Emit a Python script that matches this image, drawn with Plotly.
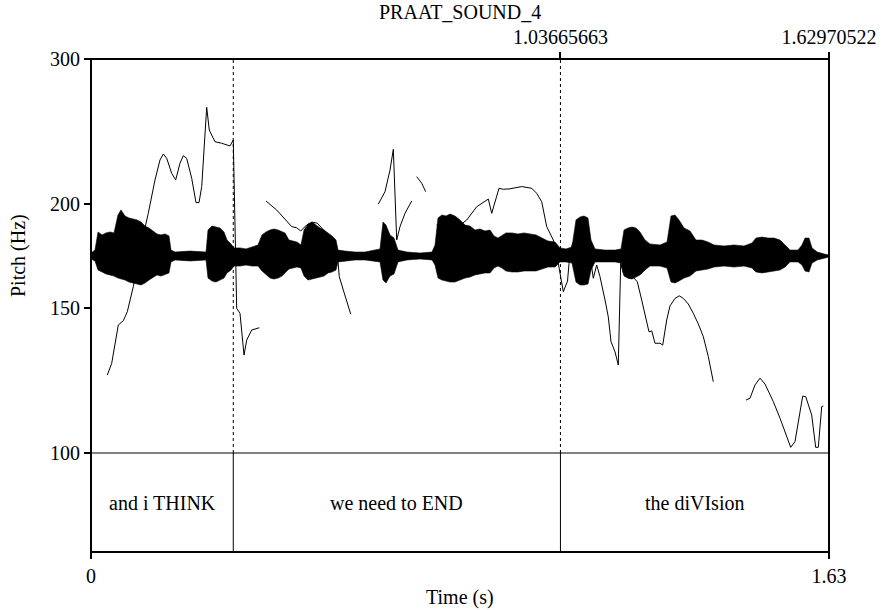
import plotly.graph_objects as go
import math

# ---------------- data ----------------
TITLE = "PRAAT_SOUND_4"
T_END = 1.62970522
BOUNDARIES = [0.3142, 1.03665663]
TOP_TICKS = [1.03665663, 1.62970522]
TOP_TICK_TEXT = ["1.03665663", "1.62970522"]
BOTTOM_TICKS = [0, 1.62970522]
BOTTOM_TICK_TEXT = ["0", "1.63"]
PITCH_TICKS = [100, 150, 200, 300]
PITCH_MIN, PITCH_MAX = 100, 300

tier_labels = ["and i THINK", "we need to END", "the diVIsion"]

# pitch contour segments (time s, Hz)
pitch_t1 = [0.0360, 0.0457, 0.0603, 0.0713, 0.0802, 0.0934, 0.1082, 0.1265, 0.1413, 0.1524,
            0.1597, 0.1672, 0.1782, 0.1870, 0.1965, 0.2038, 0.2113, 0.2224, 0.2319, 0.2385,
            0.2445, 0.2495, 0.2555, 0.2612, 0.2738, 0.2886, 0.3070, 0.3142, 0.3217, 0.3290,
            0.3379, 0.3438, 0.3549, 0.3717]
pitch_f1 = [124.3, 128.4, 142.9, 144.6, 148.3, 159.0, 176.1, 195.1, 214.1, 226.4,
            230.2, 227.4, 218.1, 214.1, 224.3, 229.1, 227.4, 215.1, 201.0, 201.0,
            210.2, 234.9, 262.2, 246.1, 238.2, 237.2, 235.4, 239.4, 149.7, 147.6,
            131.4, 137.0, 140.9, 141.8]

pitch_t2 = [0.3865, 0.4101, 0.4432, 0.4542, 0.4631, 0.4763, 0.4896, 0.4997, 0.5205, 0.5388,
            0.5439, 0.5483, 0.5572, 0.5735]
pitch_f2 = [201.9, 196.9, 188.0, 187.4, 185.7, 188.9, 190.3, 189.8, 184.5, 179.5,
            174.5, 163.5, 157.5, 147.3]

pitch_t3 = [0.6345, 0.6492, 0.6603, 0.6676, 0.6751, 0.6824, 0.6934, 0.7082]
pitch_f3 = [200.2, 207.2, 220.1, 233.2, 181.1, 188.0, 195.1, 201.9]

pitch_t4 = [0.7192, 0.7303, 0.7391]
pitch_f4 = [216.1, 212.2, 207.2]

pitch_t5 = [0.7634, 0.7745, 0.7928, 0.8111, 0.8297, 0.8517, 0.8774, 0.8849, 0.9010, 0.9105,
            0.9253, 0.9511, 0.9732, 0.9842, 0.9953, 1.0063, 1.0209, 1.0319, 1.0430, 1.0523,
            1.0556, 1.0622, 1.0754, 1.0865, 1.0975, 1.1092, 1.1167, 1.1240, 1.1351, 1.1423,
            1.1483, 1.1572, 1.1644, 1.1697, 1.1755, 1.1865, 1.1976, 1.2064, 1.2161, 1.2271,
            1.2322, 1.2382, 1.2455, 1.2565, 1.2625, 1.2713, 1.2786, 1.2896, 1.2991, 1.3080,
            1.3190, 1.3301, 1.3411, 1.3522, 1.3632, 1.3742]
pitch_f5 = [188.9, 189.8, 187.6, 188.0, 191.5, 198.7, 203.0, 195.1, 209.2, 208.6,
            208.9, 210.2, 209.2, 206.3, 201.5, 188.0, 181.1, 169.7, 156.8, 161.5,
            169.7, 178.6, 185.2, 184.7, 180.1, 162.8, 168.9, 163.5, 153.2, 146.2,
            136.4, 132.6, 127.8, 169.7, 165.1, 162.8, 163.2, 161.2, 153.2, 144.9,
            140.2, 140.6, 135.8, 135.8, 135.1, 144.9, 150.7, 153.9, 155.0, 153.9,
            151.5, 147.6, 143.3, 138.3, 130.8, 122.0]

pitch_t6 = [1.4464, 1.4553, 1.4663, 1.4774, 1.4884, 1.5067, 1.5215, 1.5363, 1.5451, 1.5546,
            1.5672, 1.5716, 1.5783, 1.5915, 1.6003, 1.6061, 1.6136, 1.6171]
pitch_f6 = [115.9, 116.5, 120.9, 123.2, 121.2, 115.4, 110.2, 105.1, 101.6, 103.2,
            112.7, 117.2, 117.0, 111.2, 101.6, 101.6, 113.8, 114.0]

# waveform envelope (time s, upper and lower amplitude, relative)
wave_t = [0.0000, 0.0088, 0.0155, 0.0243, 0.0331, 0.0420, 0.0508, 0.0596, 0.0662, 0.0751,
          0.0839, 0.0927, 0.1016, 0.1104, 0.1192, 0.1281, 0.1369, 0.1457, 0.1546, 0.1634,
          0.1722, 0.1767, 0.1855, 0.2186, 0.2540, 0.2584, 0.2672, 0.2760, 0.2849, 0.2937,
          0.3003, 0.3092, 0.3158, 0.3290, 0.3423, 0.3555, 0.3688, 0.3776, 0.3865, 0.3953,
          0.4041, 0.4130, 0.4218, 0.4284, 0.4372, 0.4461, 0.4549, 0.4637, 0.4704, 0.4792,
          0.4880, 0.4969, 0.5057, 0.5145, 0.5234, 0.5322, 0.5410, 0.5455, 0.5609, 0.5830,
          0.6051, 0.6227, 0.6382, 0.6448, 0.6514, 0.6603, 0.6691, 0.6779, 0.6978, 0.7265,
          0.7530, 0.7597, 0.7663, 0.7751, 0.7839, 0.7928, 0.8038, 0.8148, 0.8259, 0.8369,
          0.8480, 0.8590, 0.8701, 0.8811, 0.8899, 0.8988, 0.9076, 0.9164, 0.9297, 0.9429,
          0.9562, 0.9694, 0.9827, 0.9959, 1.0092, 1.0247, 1.0357, 1.0489, 1.0622, 1.0710,
          1.0799, 1.0887, 1.0975, 1.1042, 1.1130, 1.1351, 1.1572, 1.1704, 1.1770, 1.1858,
          1.1946, 1.2035, 1.2123, 1.2234, 1.2344, 1.2565, 1.2720, 1.2808, 1.2896, 1.2985,
          1.3095, 1.3228, 1.3360, 1.3493, 1.3625, 1.3758, 1.3979, 1.4199, 1.4420, 1.4597,
          1.4685, 1.4818, 1.4950, 1.5083, 1.5215, 1.5326, 1.5436, 1.5613, 1.5701, 1.5767,
          1.5855, 1.5922, 1.6038, 1.6193, 1.6297]
wave_top = [0.015, 0.030, 0.122, 0.107, 0.117, 0.122, 0.117, 0.208, 0.234, 0.203,
            0.193, 0.188, 0.183, 0.173, 0.152, 0.142, 0.127, 0.112, 0.107, 0.112,
            0.102, 0.030, 0.020, 0.025, 0.020, 0.132, 0.152, 0.147, 0.142, 0.122,
            0.081, 0.061, 0.041, 0.041, 0.036, 0.046, 0.056, 0.107, 0.122, 0.132,
            0.137, 0.132, 0.122, 0.117, 0.081, 0.076, 0.071, 0.056, 0.132, 0.162,
            0.173, 0.157, 0.142, 0.132, 0.117, 0.102, 0.081, 0.030, 0.025, 0.020,
            0.020, 0.030, 0.036, 0.173, 0.157, 0.107, 0.091, 0.030, 0.020, 0.015,
            0.020, 0.056, 0.193, 0.208, 0.203, 0.213, 0.203, 0.183, 0.157, 0.152,
            0.132, 0.137, 0.127, 0.132, 0.102, 0.091, 0.102, 0.117, 0.117, 0.112,
            0.117, 0.112, 0.107, 0.091, 0.076, 0.071, 0.041, 0.036, 0.046, 0.183,
            0.198, 0.203, 0.193, 0.081, 0.036, 0.030, 0.030, 0.036, 0.132, 0.142,
            0.147, 0.142, 0.122, 0.081, 0.061, 0.056, 0.071, 0.203, 0.208, 0.183,
            0.142, 0.127, 0.081, 0.081, 0.071, 0.056, 0.051, 0.056, 0.051, 0.066,
            0.091, 0.096, 0.091, 0.091, 0.081, 0.056, 0.030, 0.030, 0.056, 0.091,
            0.091, 0.041, 0.020, 0.010, 0.005]
wave_bot = [-0.015, -0.025, -0.071, -0.081, -0.091, -0.096, -0.102, -0.112, -0.117, -0.122,
            -0.132, -0.137, -0.142, -0.147, -0.137, -0.122, -0.107, -0.096, -0.102, -0.096,
            -0.086, -0.030, -0.020, -0.025, -0.020, -0.112, -0.127, -0.132, -0.122, -0.112,
            -0.086, -0.071, -0.051, -0.051, -0.046, -0.051, -0.051, -0.076, -0.096, -0.112,
            -0.117, -0.112, -0.102, -0.086, -0.066, -0.061, -0.056, -0.061, -0.102, -0.122,
            -0.117, -0.112, -0.107, -0.102, -0.086, -0.081, -0.071, -0.030, -0.025, -0.020,
            -0.020, -0.025, -0.030, -0.122, -0.137, -0.102, -0.091, -0.030, -0.020, -0.015,
            -0.020, -0.046, -0.112, -0.122, -0.127, -0.132, -0.132, -0.122, -0.112, -0.107,
            -0.096, -0.091, -0.086, -0.086, -0.061, -0.051, -0.061, -0.076, -0.081, -0.081,
            -0.076, -0.076, -0.076, -0.066, -0.056, -0.056, -0.030, -0.030, -0.036, -0.132,
            -0.147, -0.147, -0.142, -0.071, -0.030, -0.030, -0.030, -0.036, -0.102, -0.112,
            -0.117, -0.107, -0.096, -0.071, -0.051, -0.051, -0.061, -0.132, -0.137, -0.127,
            -0.112, -0.102, -0.076, -0.071, -0.066, -0.056, -0.051, -0.056, -0.051, -0.061,
            -0.081, -0.086, -0.081, -0.076, -0.071, -0.056, -0.030, -0.030, -0.046, -0.076,
            -0.081, -0.036, -0.020, -0.010, -0.005]

# ---------------- figure ----------------
FONT = "'Liberation Serif', 'Times New Roman', 'DejaVu Serif', serif"
W, H = 882, 610
ML, MR, MT, MB = 91, 53, 59, 58
plot_w = W - ML - MR
plot_h = H - MT - MB
tier_frac = 99 / plot_h

fig = go.Figure()

# waveform envelope
fig.add_trace(go.Scatter(
    x=wave_t + wave_t[::-1], y=wave_top + wave_bot[::-1],
    mode="lines", fill="toself", fillcolor="black",
    line=dict(color="black", width=0.6), yaxis="y3", xaxis="x",
    hoverinfo="skip", showlegend=False))

# pitch contour
px, py = [], []
for ts, fs in [(pitch_t1, pitch_f1), (pitch_t2, pitch_f2), (pitch_t3, pitch_f3),
               (pitch_t4, pitch_f4), (pitch_t5, pitch_f5), (pitch_t6, pitch_f6)]:
    px += ts + [None]
    py += fs + [None]
fig.add_trace(go.Scatter(x=px, y=py, mode="lines", line=dict(color="black", width=1),
                         xaxis="x", yaxis="y", connectgaps=False, showlegend=False))

# invisible trace to activate top axis
fig.add_trace(go.Scatter(x=[0, T_END], y=[PITCH_MIN, PITCH_MIN], mode="lines",
                         line=dict(width=0), xaxis="x2", yaxis="y",
                         hoverinfo="skip", showlegend=False))
# tier axis trace
fig.add_trace(go.Scatter(x=[0, T_END], y=[0, 0], mode="lines", line=dict(width=0),
                         xaxis="x", yaxis="y2", hoverinfo="skip", showlegend=False))

shapes = []
shapes.append(dict(type="rect", xref="paper", yref="paper", x0=0, x1=1, y0=0, y1=1,
                   line=dict(color="black", width=2)))
shapes.append(dict(type="line", xref="paper", yref="paper", x0=0, x1=1,
                   y0=tier_frac, y1=tier_frac, line=dict(color="black", width=1)))
for b in BOUNDARIES:
    shapes.append(dict(type="line", xref="x", yref="paper", x0=b, x1=b,
                       y0=tier_frac, y1=1, line=dict(color="black", width=1, dash="dot")))
    shapes.append(dict(type="line", xref="x", yref="paper", x0=b, x1=b,
                       y0=0, y1=tier_frac, line=dict(color="black", width=1)))

tfont = dict(family=FONT, size=20, color="black")
edges = [0] + BOUNDARIES + [T_END]
annotations = []
for i, lab in enumerate(tier_labels):
    annotations.append(dict(x=(edges[i] + edges[i + 1]) / 2, y=0.5, xref="x", yref="y2",
                            text=lab, showarrow=False, font=tfont))
annotations.append(dict(x=0.5, y=1 + 47 / plot_h, xref="paper", yref="paper", text=TITLE,
                        showarrow=False, font=tfont, yanchor="middle"))
annotations.append(dict(x=0.5, y=-45 / plot_h, xref="paper", yref="paper", text="Time (s)",
                        showarrow=False, font=tfont, yanchor="middle"))
annotations.append(dict(x=-73 / plot_w, y=tier_frac + (1 - tier_frac) / 2,
                        xref="paper", yref="paper", text="Pitch (Hz)", textangle=-90,
                        showarrow=False, font=tfont, xanchor="center", yanchor="middle"))

common = dict(ticks="outside", ticklen=6, tickwidth=1.5, tickcolor="black",
              showgrid=False, zeroline=False, showline=False, automargin=False,
              tickfont=tfont)

fig.update_layout(
    width=W, height=H, margin=dict(l=ML, r=MR, t=MT, b=MB, autoexpand=False),
    paper_bgcolor="white", plot_bgcolor="white",
    font=tfont,
    showlegend=False, shapes=shapes, annotations=annotations,
    xaxis=dict(domain=[0, 1], range=[0, T_END], anchor="y2", tickmode="array",
               tickvals=BOTTOM_TICKS, ticktext=BOTTOM_TICK_TEXT, **common),
    xaxis2=dict(range=[0, T_END], overlaying="x", anchor="y", side="top",
                tickmode="array", tickvals=TOP_TICKS, ticktext=TOP_TICK_TEXT, **common),
    yaxis=dict(domain=[tier_frac, 1], type="log",
               range=[math.log10(PITCH_MIN), math.log10(PITCH_MAX)], anchor="x",
               tickmode="array", tickvals=PITCH_TICKS, ticktext=[str(v) for v in PITCH_TICKS],
               **common),
    yaxis2=dict(domain=[0, tier_frac], range=[0, 1], anchor="x", showticklabels=False,
                ticks="", showgrid=False, zeroline=False, showline=False),
    yaxis3=dict(overlaying="y", range=[-1, 1], anchor="x", visible=False,
                showgrid=False, zeroline=False),
)

fig.write_html("out.html")
